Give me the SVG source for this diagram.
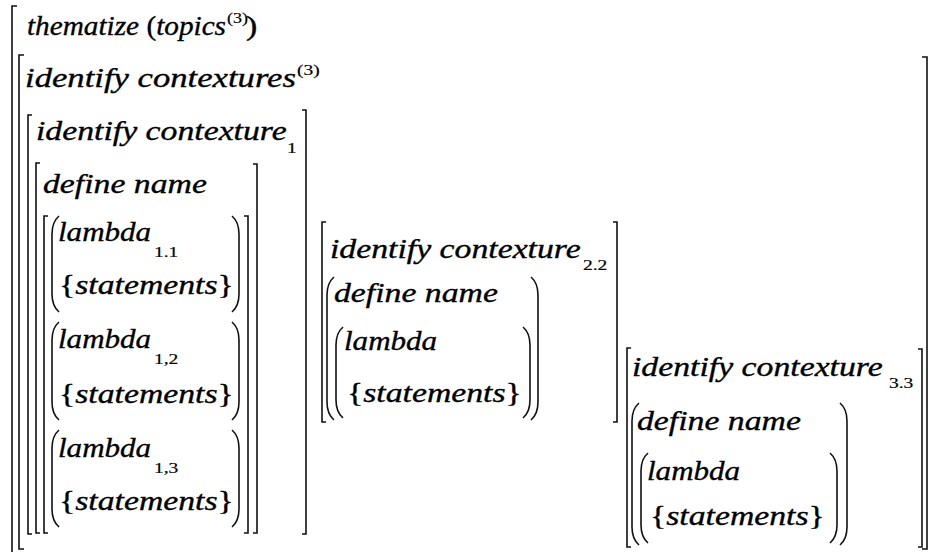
<svg xmlns="http://www.w3.org/2000/svg" width="930" height="552" viewBox="0 0 930 552">
<style>
.t{font-family:"Liberation Serif","Times New Roman",serif;font-size:27px;font-style:italic;fill:#000;stroke:#000;stroke-width:0.35}
.up{font-style:normal}
.s{font-family:"Liberation Serif","Times New Roman",serif;font-size:15px;font-style:normal;fill:#000;stroke:#000;stroke-width:0.2}
.br{fill:none;stroke:#111;stroke-width:1.6}
</style>
<rect width="930" height="552" fill="#fff"/>
<g id="outer">
<path class="br" d="M17,6 H12 V560"/>
<text class="t" transform="translate(27,35)" textLength="199" lengthAdjust="spacingAndGlyphs">thematize <tspan class="up">(</tspan>topics</text>
<text class="s" transform="matrix(1.2,0,0,1,227,23)">(3)</text>
<text class="t up" transform="matrix(1.25,0,0,1,246,35)">)</text>
</g>
<g id="contextures">
<path class="br" d="M24,55 H19 V549 H24"/>
<path class="br" d="M922,57 H927 V549 H922"/>
<text class="t" transform="translate(25,87)" textLength="271" lengthAdjust="spacingAndGlyphs">identify contextures</text>
<text class="s" transform="matrix(1.3,0,0,1,297,75)">(3)</text>
</g>
<g id="contexture-1">
<path class="br" d="M32,115 H28 V534 H32"/>
<path class="br" d="M302,110 H306 V534 H302"/>
<text class="t" transform="matrix(1.25,0,0,1,36,140)">identify contexture</text>
<text class="s" transform="matrix(1.3,0,0,1,287,153)">1</text>
<g id="define-1">
<path class="br" d="M40,163 H36 V533 H40"/>
<path class="br" d="M253,164 H257 V533 H253"/>
<text class="t" transform="matrix(1.25,0,0,1,43,193)">define name</text>
<g id="lambdas-1">
<path class="br" d="M48,216 H44 V533 H48"/>
<path class="br" d="M244,216 H248 V533 H244"/>
<g id="lambda-1-1">
<path class="br" d="M59,216 Q52,222 52,234 V294 Q52,306 59,312"/>
<path class="br" d="M232,216 Q239,222 239,234 V294 Q239,306 232,312"/>
<text class="t" transform="matrix(1.15,0,0,1,58,241)">lambda</text>
<text class="s" transform="matrix(1.3,0,0,1,154,257)">1.1</text>
<text class="t" transform="matrix(1.25,0,0,1,59,294)"><tspan class="up">{</tspan>statements<tspan class="up">}</tspan></text>
</g>
<g id="lambda-1-2">
<path class="br" d="M59,322 Q52,328 52,340 V402 Q52,414 59,420"/>
<path class="br" d="M232,322 Q239,328 239,340 V402 Q239,414 232,420"/>
<text class="t" transform="matrix(1.15,0,0,1,58,348)">lambda</text>
<text class="s" transform="matrix(1.3,0,0,1,154,364)">1,2</text>
<text class="t" transform="matrix(1.25,0,0,1,59,403)"><tspan class="up">{</tspan>statements<tspan class="up">}</tspan></text>
</g>
<g id="lambda-1-3">
<path class="br" d="M59,430 Q52,436 52,448 V509 Q52,521 59,527"/>
<path class="br" d="M232,430 Q239,436 239,448 V509 Q239,521 232,527"/>
<text class="t" transform="matrix(1.15,0,0,1,58,457)">lambda</text>
<text class="s" transform="matrix(1.3,0,0,1,154,473)">1,3</text>
<text class="t" transform="matrix(1.25,0,0,1,59,510)"><tspan class="up">{</tspan>statements<tspan class="up">}</tspan></text>
</g>
</g>
</g>
</g>
<g id="contexture-2-2">
<path class="br" d="M326,222 H322 V422 H326"/>
<path class="br" d="M613,222 H617 V422 H613"/>
<text class="t" transform="matrix(1.25,0,0,1,330,258)">identify contexture</text>
<text class="s" transform="matrix(1.3,0,0,1,583,270)">2.2</text>
<g id="define-2-2">
<path class="br" d="M334,277 Q327,283 327,295 V402 Q327,414 334,420"/>
<path class="br" d="M531,277 Q538,283 538,295 V402 Q538,414 531,420"/>
<text class="t" transform="matrix(1.25,0,0,1,334,302)">define name</text>
<path class="br" d="M343,327 Q336,333 336,345 V400 Q336,412 343,418"/>
<path class="br" d="M523,327 Q530,333 530,345 V400 Q530,412 523,418"/>
<text class="t" transform="matrix(1.15,0,0,1,344,350)">lambda</text>
<text class="t" transform="matrix(1.25,0,0,1,347,402)"><tspan class="up">{</tspan>statements<tspan class="up">}</tspan></text>
</g>
</g>
<g id="contexture-3-3">
<path class="br" d="M631,348 H627 V547 H631"/>
<path class="br" d="M918,349 H922 V547 H918"/>
<text class="t" transform="matrix(1.25,0,0,1,632,376)">identify contexture</text>
<text class="s" transform="matrix(1.3,0,0,1,889,388)">3.3</text>
<g id="define-3-3">
<path class="br" d="M639,403 Q632,409 632,421 V527 Q632,539 639,545"/>
<path class="br" d="M840,403 Q847,409 847,421 V527 Q847,539 840,545"/>
<text class="t" transform="matrix(1.25,0,0,1,637,430)">define name</text>
<path class="br" d="M648,453 Q641,459 641,471 V525 Q641,537 648,543"/>
<path class="br" d="M830,453 Q837,459 837,471 V525 Q837,537 830,543"/>
<text class="t" transform="matrix(1.15,0,0,1,647,480)">lambda</text>
<text class="t" transform="matrix(1.25,0,0,1,650,525)"><tspan class="up">{</tspan>statements<tspan class="up">}</tspan></text>
</g>
</g>
</svg>
